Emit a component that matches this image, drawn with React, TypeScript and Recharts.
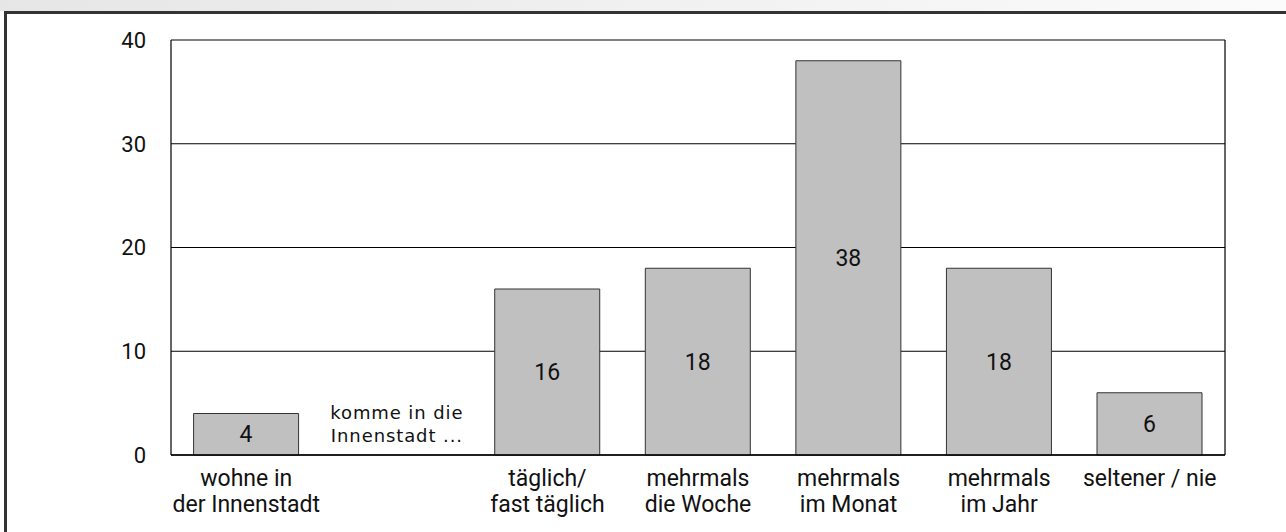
import {
  BarChart,
  Bar,
  XAxis,
  YAxis,
  CartesianGrid,
  LabelList,
  ReferenceDot,
} from 'recharts';

// category keys, one empty slot holds the "komme in die Innenstadt ..." note
const categories = ['wohne', 'komme', 'taeglich', 'woche', 'monat', 'jahr', 'selten'];
const tickLines: string[][] = [
  ['wohne in', 'der Innenstadt'],
  [],
  ['täglich/', 'fast täglich'],
  ['mehrmals', 'die Woche'],
  ['mehrmals', 'im Monat'],
  ['mehrmals', 'im Jahr'],
  ['seltener / nie'],
];
const values: (number | null)[] = [4, null, 16, 18, 38, 18, 6];
const yTicks = [0, 10, 20, 30, 40];
const noteLines = ['komme in die', 'Innenstadt ...'];
const noteLevel = 2.9;

const chartData = categories.map((key, i) => ({ key, value: values[i] }));

const FONT = 'Roboto, "Liberation Sans", sans-serif';

const XTick = (props: any) => {
  const { x, y, index } = props;
  const lines = tickLines[index] || [];
  return (
    <g>
      {lines.map((line, i) => (
        <text
          key={i}
          x={x}
          y={y + 23 + i * 26}
          textAnchor="middle"
          fontSize={23}
          fontFamily={FONT}
          fill="#111"
        >
          {line}
        </text>
      ))}
    </g>
  );
};

const NoteLabel = (props: any) => {
  const { viewBox } = props;
  const cx = viewBox.x + viewBox.width / 2;
  const cy = viewBox.y + viewBox.height / 2;
  return (
    <g>
      {noteLines.map((line, i) => (
        <text
          key={i}
          x={cx}
          y={cy - 6 + i * 23}
          textAnchor="middle"
          fontSize={18}
          letterSpacing={0.9}
          fontFamily='"DejaVu Sans", Verdana, sans-serif'
          fill="#111"
        >
          {line}
        </text>
      ))}
    </g>
  );
};

// left and right edges of the plot box
const boxEdges = ({ offset }: any) => [offset.left, offset.left + offset.width];

const App = () => {
  return (
    <div
      style={{
        position: 'absolute',
        left: 0,
        top: 0,
        width: 1286,
        height: 532,
        overflow: 'hidden',
        background: '#fff',
      }}
    >
      <div
        style={{
          position: 'absolute',
          left: 0,
          top: 0,
          width: 1286,
          height: 11,
          background: 'linear-gradient(to right, #e6e6e6, #fbfbfb)',
        }}
      />
      <div
        style={{
          position: 'absolute',
          left: 4,
          top: 11,
          width: 1300,
          height: 540,
          borderTop: '3px solid #333',
          borderLeft: '3px solid #333',
        }}
      />
      <div style={{ position: 'absolute', left: 0, top: 0 }}>
        <BarChart
          width={1286}
          height={532}
          data={chartData}
          margin={{ top: 40, right: 61, left: 111, bottom: 7 }}
          barCategoryGap="15%"
        >
          <CartesianGrid
            horizontal={false}
            verticalCoordinatesGenerator={boxEdges}
            stroke="#666"
            strokeWidth={2}
            strokeDasharray="0"
          />
          <CartesianGrid vertical={false} stroke="#000" strokeDasharray="0" />
          <XAxis
            dataKey="key"
            height={70}
            axisLine={{ stroke: '#000', strokeWidth: 1.5 }}
            tickLine={false}
            tick={<XTick />}
            interval={0}
          />
          <YAxis
            width={60}
            domain={[0, 40]}
            ticks={yTicks}
            axisLine={false}
            tickLine={false}
            tickSize={0}
            tickMargin={25}
            tick={{ fontSize: 22, fontFamily: FONT, fill: '#111' }}
          />
          <Bar
            dataKey="value"
            fill="#c0c0c0"
            stroke="#333"
            strokeWidth={1}
            isAnimationActive={false}
          >
            <LabelList
              dataKey="value"
              position="center"
              fontSize={23}
              fontFamily={FONT}
              fill="#111"
            />
          </Bar>
          <ReferenceDot
            x="komme"
            y={noteLevel}
            r={0}
            fill="none"
            stroke="none"
            label={<NoteLabel />}
          />
        </BarChart>
      </div>
    </div>
  );
};

export default App;
